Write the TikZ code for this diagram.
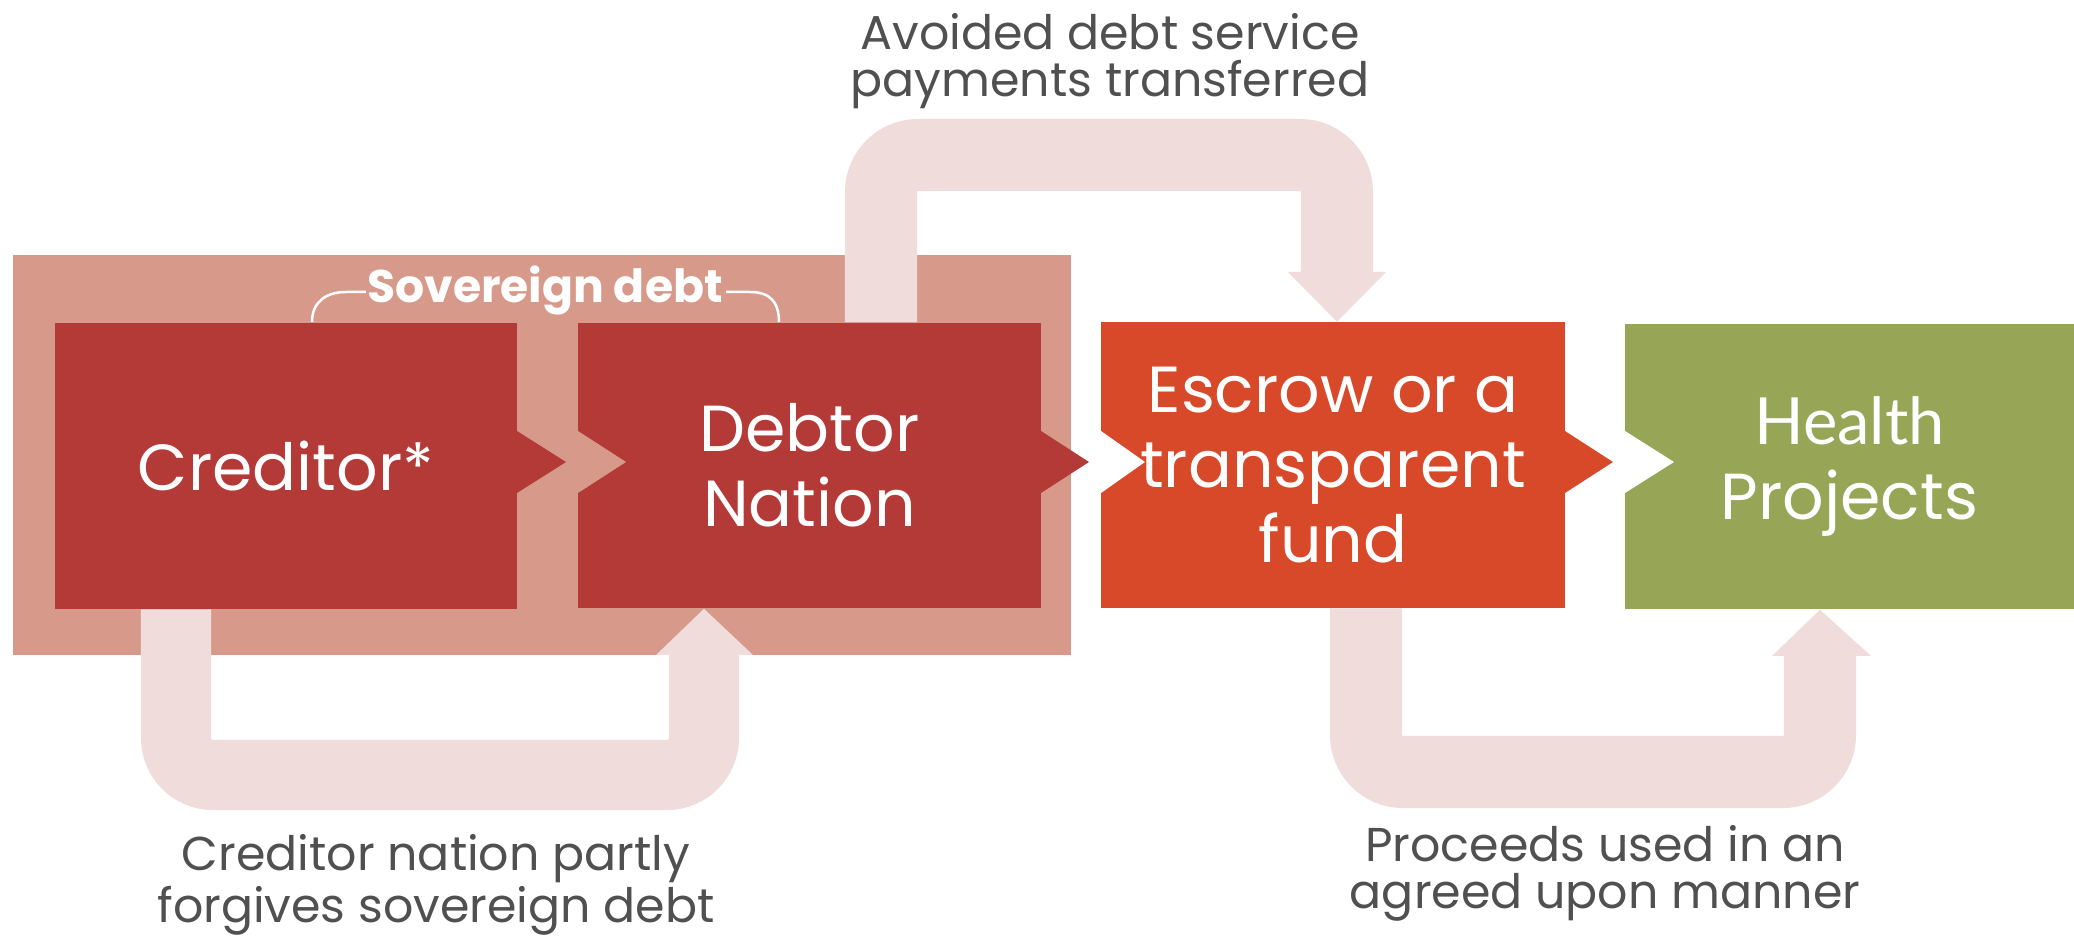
\documentclass[tikz,border=0pt]{standalone}
\usepackage{fontspec}
\setmainfont{Poppins}
\newfontfamily\healthfont{Lato}
\definecolor{salmon}{HTML}{D79A8A}
\definecolor{credred}{HTML}{B33A37}
\definecolor{escrowred}{HTML}{D8492A}
\definecolor{healthgreen}{HTML}{96A656}
\definecolor{bandpink}{HTML}{F1DCDC}
\definecolor{labelgray}{HTML}{505050}
\begin{document}
\begin{tikzpicture}[x=0.01cm,y=-0.01cm,
  box/.style={rectangle, inner sep=0pt, minimum height=2.85cm, text=white, align=center, font=\fontsize{18.5pt}{21.3pt}\selectfont},
  band/.style={draw=bandpink, line width=0.72cm, rounded corners=0.37cm},
  lbl/.style={text=labelgray, align=center, font=\fontsize{13.5pt}{13.4pt}\selectfont},
  bracket/.style={draw=white, line width=0.025cm}]
\useasboundingbox (0,0) rectangle (2074,946);
\fill[white] (0,0) rectangle (2074,946);
% background group
\fill[salmon] (13,255) rectangle (1071,655);
% boxes
\node[box, fill=credred, minimum width=4.62cm] (creditor) at (286,466) {Creditor*};
\node[box, fill=credred, minimum width=4.63cm] (debtor) at (809.5,465.5) {Debtor\\Nation};
\node[box, fill=escrowred, minimum width=4.64cm] (escrow) at (1333,465) {Escrow or a\\transparent\\fund};
\node[box, fill=healthgreen, minimum width=4.49cm] (health) at (1849.5,466.5) {{\healthfont Health}\\Projects};
% chevron points and notches
\fill[credred] (517,431) -- (566,462) -- (517,493) -- cycle;
\fill[salmon] (578,431) -- (626,462) -- (578,493) -- cycle;
\fill[credred] (1041,431) -- (1089,462) -- (1041,493) -- cycle;
\fill[white] (1101,431) -- (1145,462) -- (1101,493) -- cycle;
\fill[escrowred] (1565,431) -- (1613,462) -- (1565,493) -- cycle;
\fill[white] (1625,431) -- (1674,462) -- (1625,493) -- cycle;
% top band
\coordinate (t1) at (881,155);
\coordinate (t2) at (1337,155);
\coordinate (t3) at (1337,272);
\draw[band] (t1 |- debtor.north) -- (t1) -- (t2) -- (t3);
\fill[bandpink] (1288,272) -- (1386,272) -- (t3 |- escrow.north) -- cycle;
% bottom left band
\coordinate (b1) at (176,775);
\coordinate (b2) at (704,775);
\coordinate (b3) at (704,655);
\draw[band, line width=0.70cm] (b1 |- creditor.south) -- (b1) -- (b2) -- (b3);
\fill[bandpink] (656,655) -- (753,655) -- (b3 |- debtor.south) -- cycle;
% bottom right band
\coordinate (r1) at (1366,772);
\coordinate (r2) at (1820,772);
\coordinate (r3) at (1820,656);
\draw[band] (r1 |- escrow.south) -- (r1) -- (r2) -- (r3);
\fill[bandpink] (1772,656) -- (1871,656) -- (r3 |- health.south) -- cycle;
% labels
\node[lbl] (toplbl) at (1110,61) {Avoided debt service\\payments transferred};
\node[lbl] (leftlbl) at (436,885) {Creditor nation partly\\forgives sovereign debt};
\node[lbl] (rightlbl) at (1605,873) {Proceeds used in an\\agreed upon manner};
% sovereign debt bracket
\node[text=white, font=\bfseries\fontsize{13pt}{15pt}\selectfont] (sov) at (545,290) {Sovereign debt};
\draw[bracket] (312,322) .. controls (312,302) and (326,292) .. (346,292) -- (366,292);
\draw[bracket] (726,292) -- (750,292) .. controls (770,292) and (779,302) .. (779,322);
\end{tikzpicture}
\end{document}
